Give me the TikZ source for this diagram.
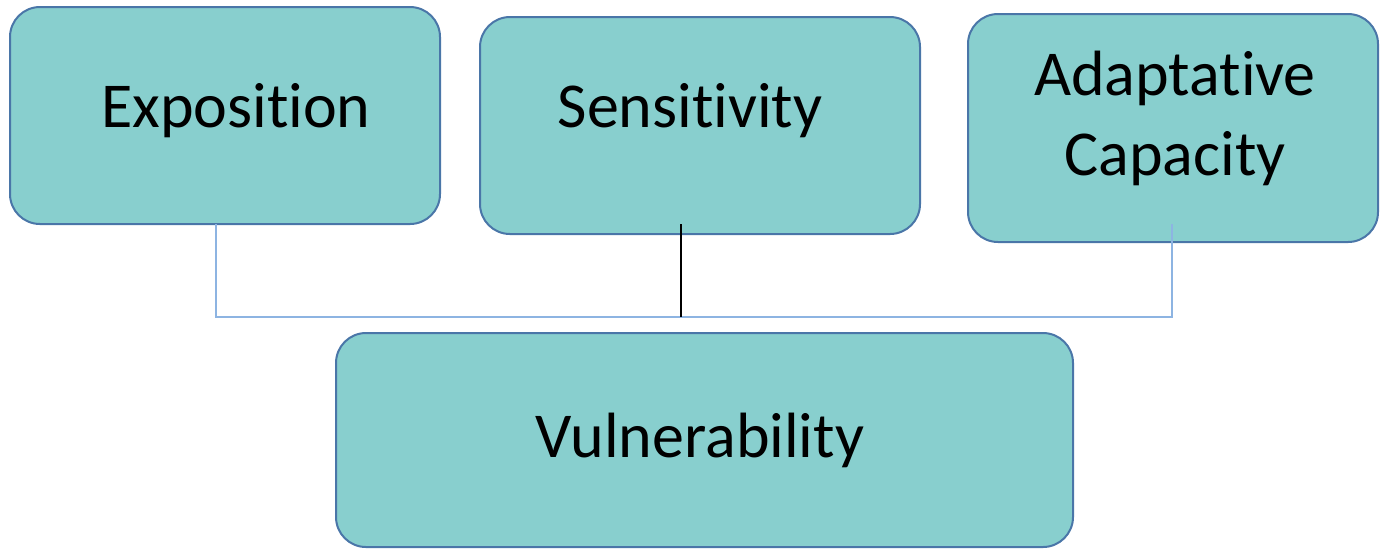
\documentclass[tikz,border=0pt]{standalone}
\usepackage{fontspec}
\setmainfont[RawFeature=-liga]{Carlito}
\definecolor{boxfill}{HTML}{88CFCE}
\definecolor{boxline}{HTML}{4A76A8}
\definecolor{linkblue}{HTML}{8DB4E2}
\begin{document}
\begin{tikzpicture}[x=0.5pt,y=-0.5pt,
  box/.style={draw=boxline,fill=boxfill,line width=1pt,rounded corners=15pt,inner sep=0pt},
  lbl/.style={font=\fontsize{32}{40}\selectfont,inner sep=0pt,anchor=base,align=center},
  link/.style={draw=linkblue,line width=0.8pt},
  blink/.style={draw=black,line width=0.8pt}]
\useasboundingbox (0,0) rectangle (1380,548);
\begin{scope}
\clip (0,0) rectangle (1380,548);
\node[box,minimum width=215pt,minimum height=108.5pt] (exp) at (225,115.5) {};
\node[box,minimum width=220pt,minimum height=108.5pt] (sen) at (700,125.5) {};
\node[box,minimum width=205pt,minimum height=114pt] (ada) at (1173,128) {};
\node[box,minimum width=368.5pt,minimum height=107pt] (vul) at (704.5,440) {};
\end{scope}
\node[lbl] (expT) at (236,127) {Exposition};
\node[lbl] (senT) at (690,127) {Sensitivity};
\node[lbl] (adaT) at (1175,175) {Adaptative\\Capacity};
\node[lbl] (vulT) at (700,457) {Vulnerability};
\coordinate (jl) at (216,317);
\coordinate (jm) at (681,317);
\coordinate (jr) at (1172,317);
\coordinate (sl) at (216,224);
\coordinate (sm) at (681,224);
\coordinate (sr) at (1172,224);
\draw[link] (sl) -- (jl) -- (jr) -- (sr);
\draw[blink] (sm) -- (jm);
\end{tikzpicture}
\end{document}
